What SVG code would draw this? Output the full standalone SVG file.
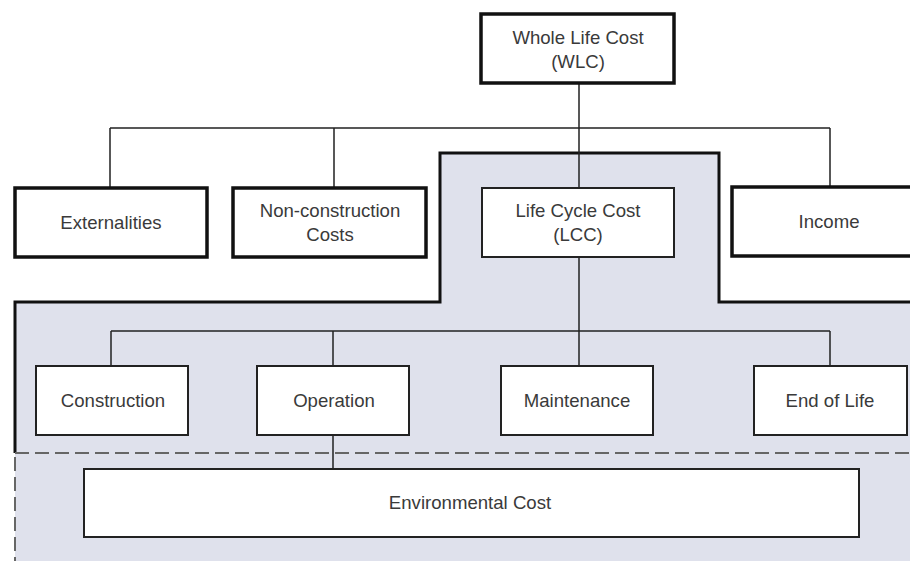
<svg xmlns="http://www.w3.org/2000/svg" width="910" height="561" viewBox="0 0 910 561">
<style>
text{font-family:"Liberation Sans",Arial,sans-serif;font-size:18.6px;fill:#3a3a3a;text-anchor:middle}
.thick{fill:#fff;stroke:#111;stroke-width:3.5}
.thin{fill:#fff;stroke:#222;stroke-width:2}
.conn{fill:none;stroke:#222;stroke-width:1.5}
.dash{fill:none;stroke:#666;stroke-width:2;stroke-dasharray:14 6}
</style>
<rect width="910" height="561" fill="#fff"/>
<g id="lcc-region">
<path d="M440,153 L719,153 L719,302 L915,302 L915,570 L15,570 L15,302 L440,302 Z" fill="#dfe1ec"/>
<path d="M15,453 L15,302 L440,302 L440,153 L719,153 L719,302 L915,302" fill="none" stroke="#111" stroke-width="3"/>
<path class="dash" d="M15,453 L910,453 M15,457 L15,561"/>
</g>
<g id="connectors">
<path class="conn" d="M579,83 L579,188 M110,128 L830,128 M110,128 L110,188 M334,128 L334,188 M830,128 L830,188"/>
<path class="conn" d="M579,257 L579,366 M111,331 L830,331 M111,331 L111,366 M333,331 L333,366 M830,331 L830,366 M333,435 L333,469"/>
</g>
<g id="wlc"><rect class="thick" x="481" y="14" width="193" height="69"/><text x="578" y="44">Whole Life Cost</text><text x="578" y="68">(WLC)</text></g>
<g id="externalities"><rect class="thick" x="15" y="188" width="192" height="69"/><text x="111" y="229">Externalities</text></g>
<g id="non-construction"><rect class="thick" x="233" y="188" width="193" height="69"/><text x="330" y="217">Non-construction</text><text x="330" y="241">Costs</text></g>
<g id="lcc"><rect class="thin" x="482" y="188" width="192" height="69"/><text x="578" y="217">Life Cycle Cost</text><text x="578" y="241">(LCC)</text></g>
<g id="income"><rect class="thick" x="732" y="187" width="190" height="69"/><text x="829" y="228">Income</text></g>
<g id="construction"><rect class="thin" x="36" y="366" width="152" height="69"/><text x="113" y="407">Construction</text></g>
<g id="operation"><rect class="thin" x="257" y="366" width="152" height="69"/><text x="334" y="407">Operation</text></g>
<g id="maintenance"><rect class="thin" x="501" y="366" width="152" height="69"/><text x="577" y="407">Maintenance</text></g>
<g id="end-of-life"><rect class="thin" x="754" y="366" width="153" height="69"/><text x="830" y="407">End of Life</text></g>
<g id="environmental"><rect class="thin" x="84" y="469" width="775" height="68"/><text x="470" y="509">Environmental Cost</text></g>
</svg>
